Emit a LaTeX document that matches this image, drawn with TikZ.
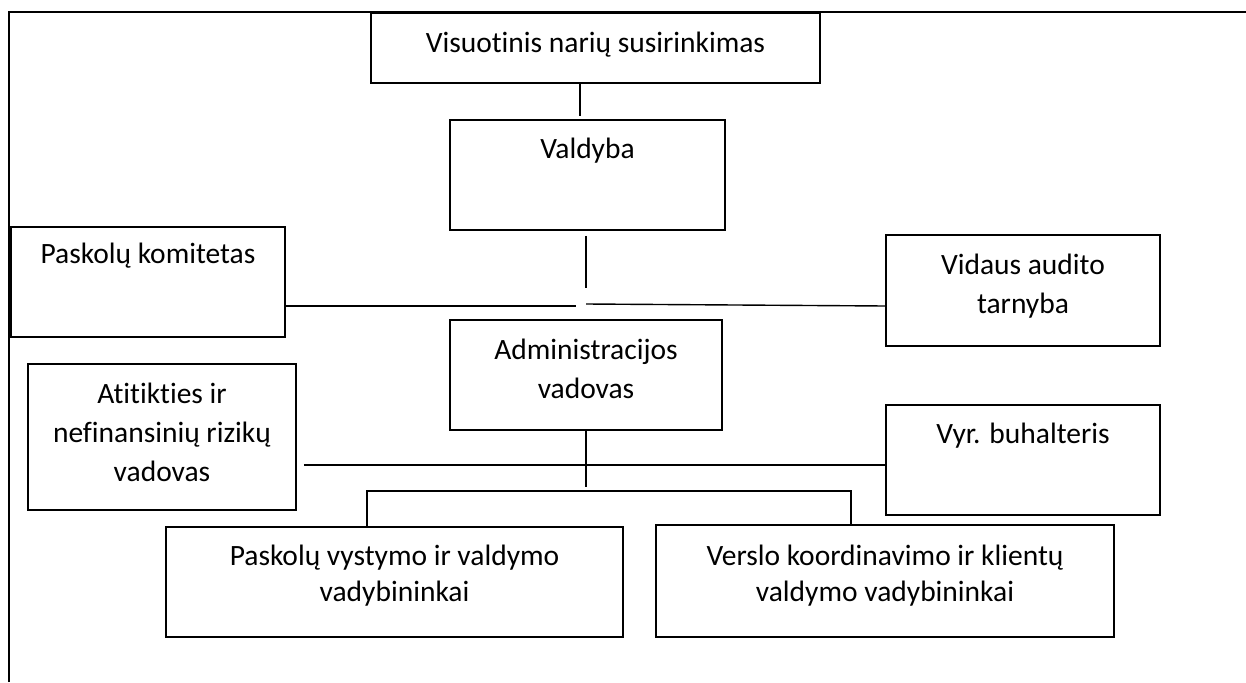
\documentclass[tikz,border=0pt]{standalone}
\usepackage{fontspec}
\setmainfont{Carlito}[Ligatures=NoCommon]
\usetikzlibrary{positioning}

\begin{document}
\begin{tikzpicture}[x=1pt, y=-1pt, node distance=18pt]
    % Define block styles
    \tikzstyle{unit} = [rectangle, draw=black, line width=1.6pt, minimum width=274pt, minimum height=110pt, inner sep=0pt]
    \tikzstyle{caption} = [align=center, font=\fontsize{29.5}{39}\selectfont, inner sep=0pt]
    \tikzstyle{link} = [line width=1.4pt]

    \useasboundingbox (0,0) rectangle (1246,682);
    % Page frame
    \draw [line width=1.4pt] (9,682) -- (9,12) -- (1246,12);

    % Draw nodes
    \node (general) [unit, minimum width=449pt, minimum height=70pt] at (595.5,48) {};
    \node (board) [unit, minimum width=275pt] at (587.5,175) {};
    \node (committee) [unit] at (148,282) {};
    \node (audit) [unit, minimum height=111pt] at (1023,290.5) {};
    \node (admin) [unit, minimum width=272pt] at (586,375) {};
    \node (compliance) [unit, minimum width=268pt, minimum height=146pt] at (162,437) {};
    \node (accountant) [unit] at (1023,460) {};
    \node (loans) [unit, minimum width=457pt] at (394.5,582) {};
    \node (business) [unit, minimum width=458pt, minimum height=112pt] at (885,581) {};

    % Box texts
    \node (general-txt) [caption, below=20pt of general.north] {Visuotinis narių susirinkimas};
    \node (board-txt) [caption, below=19pt of board.north] {Valdyba};
    \node (committee-txt) [caption, below=17pt of committee.north] {Paskolų komitetas};
    \node (audit-txt) [caption, below=20pt of audit.north] {Vidaus audito\\tarnyba};
    \node (admin-txt) [caption, below=20pt of admin.north] {Administracijos\\vadovas};
    \node (compliance-txt) [caption, below=20pt of compliance.north] {Atitikties ir\\nefinansinių rizikų\\vadovas};
    \node (accountant-txt) [caption, below=19pt of accountant.north] {Vyr. buhalteris};
    \node (loans-txt) [caption, below=19pt of loans.north, font=\fontsize{29.5}{36}\selectfont] {Paskolų vystymo ir valdymo\\vadybininkai};
    \node (business-txt) [caption, below=21pt of business.north, font=\fontsize{29.5}{36}\selectfont] {Verslo koordinavimo ir klientų\\valdymo vadybininkai};

    % Junction points
    \coordinate (upper) at (586,306);
    \coordinate (lower) at (587,465);
    \coordinate (forkl) at (367,491);
    \coordinate (forkr) at (851,491);

    % Draw edges
    \draw [link] ([xshift=-15.5pt]general.south) -- ([xshift=-7.5pt, yshift=3pt]board.north);
    \draw [link] ([xshift=-1.5pt, yshift=-5pt]board.south) -- ++(0,52);
    \draw [link] (committee.east |- upper) -- ([xshift=-10pt]upper);
    \draw [link] ([yshift=2pt]upper) -- (audit.west |- upper);
    \draw [link] (admin.south) -- ++(0,56);
    \draw [link] (compliance.east |- lower) ++(7,0) -- (accountant.west |- lower);
    \draw [link] (loans.north -| forkl) -- (forkl) -- (forkr) -- (business.north -| forkr);

\end{tikzpicture}
\end{document}
